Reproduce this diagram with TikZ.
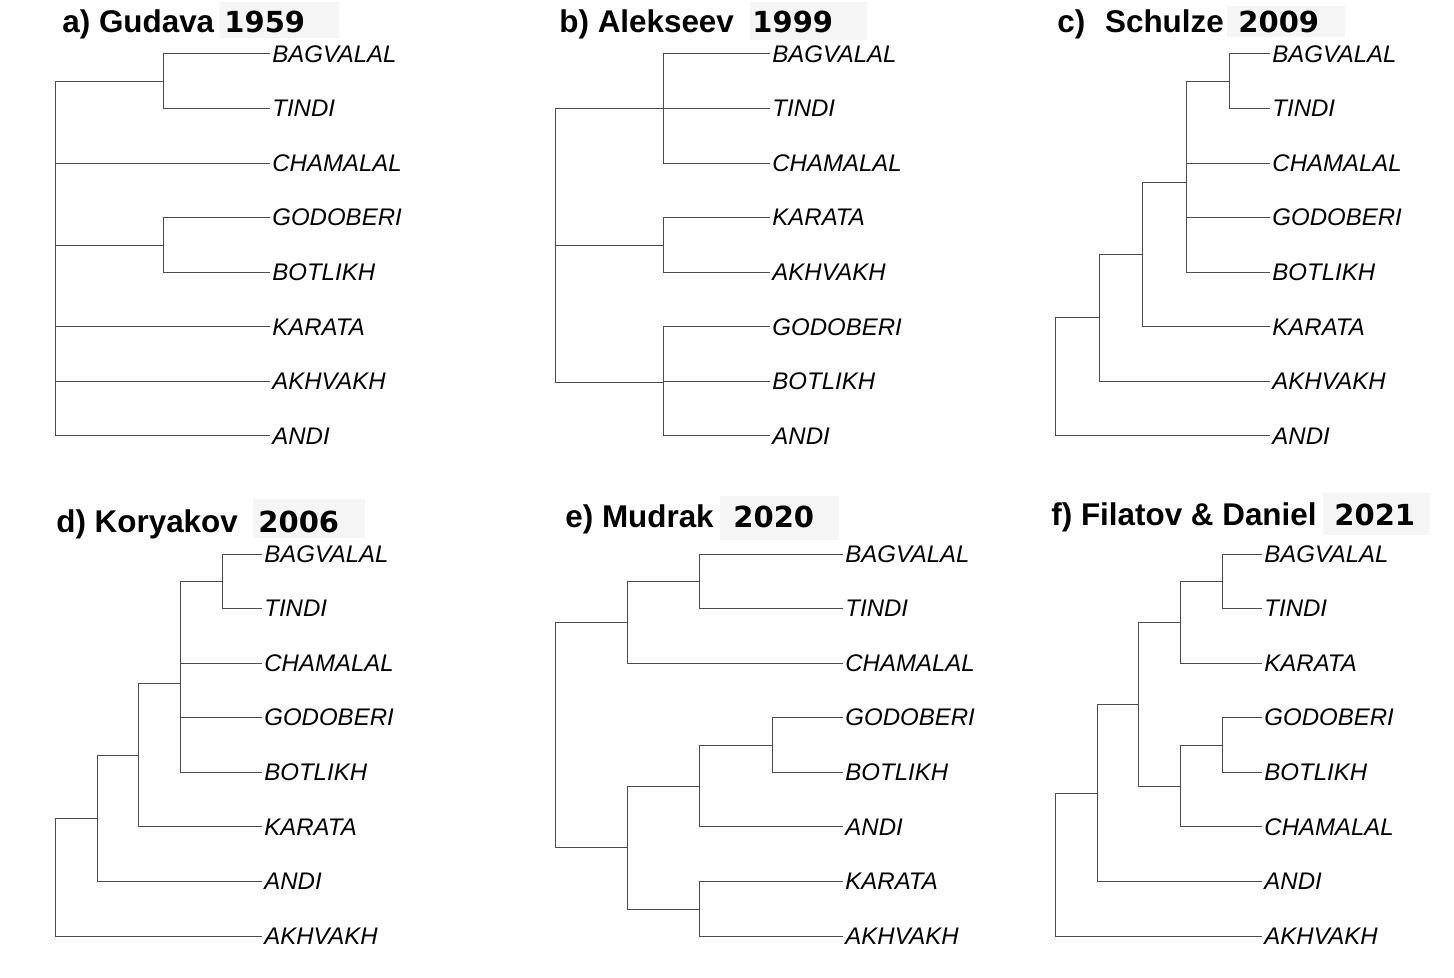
\documentclass[tikz,border=0pt]{standalone}
\usepackage{fontspec}
\setmainfont{Liberation Sans}
\newfontfamily\yearfont{DejaVu Sans}
\tikzset{
  leaf/.style={anchor=west,inner sep=1pt,font=\itshape\fontsize{12}{14}\selectfont},
  heading/.style={anchor=base west,inner sep=0pt,font=\bfseries\fontsize{15.7}{18}\selectfont},
  yearlbl/.style={anchor=base west,inner sep=0pt,font=\yearfont\bfseries\fontsize{14.5}{17}\selectfont},
  branch/.style={draw=black!70,line width=0.5pt},
  yearbg/.style={fill=black!4}
}
\begin{document}
\begin{tikzpicture}[x=0.5pt,y=-0.5pt]
\useasboundingbox (0,0) rectangle (1454,978);
% a) Gudava
\fill[yearbg] (219,2) rectangle (339,38);
\node[heading] (aT) at (62,33) {a) Gudava};
\node[yearlbl] (aY) at (224,33) {1959};
\foreach \lang [count=\i] in {BAGVALAL,TINDI,CHAMALAL,GODOBERI,BOTLIKH,KARATA,AKHVAKH,ANDI}
  \node[leaf] (a\i) at (270,{54+54.57*(\i-1)}) {\lang};
\coordinate (aBT) at (163,81.5); \coordinate (aGB) at (163,245.5); \coordinate (aR) at (55,258);
\draw[branch] (aBT) |- (a1.west) (aBT) |- (a2.west) (aGB) |- (a4.west) (aGB) |- (a5.west)
  (aR) |- (aBT) (aR) |- (a3.west) (aR) |- (aGB) (aR) |- (a6.west) (aR) |- (a7.west) (aR) |- (a8.west);
% b) Alekseev
\fill[yearbg] (750,2) rectangle (867,40);
\node[heading] (bT) at (559,33) {b) Alekseev};
\node[yearlbl] (bY) at (752,33) {1999};
\foreach \lang [count=\i] in {BAGVALAL,TINDI,CHAMALAL,KARATA,AKHVAKH,GODOBERI,BOTLIKH,ANDI}
  \node[leaf] (b\i) at (770,{54+54.57*(\i-1)}) {\lang};
\coordinate (bA) at (663,108.5); \coordinate (bB) at (663,245.5); \coordinate (bC) at (663,382); \coordinate (bR) at (555,245);
\draw[branch] (bA) |- (b1.west) (bA) |- (b2.west) (bA) |- (b3.west) (bB) |- (b4.west) (bB) |- (b5.west)
  (bC) |- (b6.west) (bC) |- (b7.west) (bC) |- (b8.west) (bR) |- (bA) (bR) |- (bB) (bR) |- (bC);
% c) Schulze
\fill[yearbg] (1227,6) rectangle (1345,37);
\node[heading] (cT) at (1057,33) {c)\hspace{0.63em}Schulze};
\node[yearlbl] (cY) at (1238,33) {2009};
\foreach \lang [count=\i] in {BAGVALAL,TINDI,CHAMALAL,GODOBERI,BOTLIKH,KARATA,AKHVAKH,ANDI}
  \node[leaf] (c\i) at (1270,{54+54.57*(\i-1)}) {\lang};
\coordinate (cBT) at (1229,81.5); \coordinate (cA) at (1186,183); \coordinate (cB) at (1142,255);
\coordinate (cC) at (1099,318); \coordinate (cR) at (1055,377);
\draw[branch] (cBT) |- (c1.west) (cBT) |- (c2.west) (cA) |- (cBT) (cA) |- (c3.west) (cA) |- (c4.west) (cA) |- (c5.west)
  (cB) |- (cA) (cB) |- (c6.west) (cC) |- (cB) (cC) |- (c7.west) (cR) |- (cC) (cR) |- (c8.west);
% d) Koryakov
\fill[yearbg] (253,499) rectangle (365,538);
\node[heading] (dT) at (56,532) {d) Koryakov};
\node[yearlbl] (dY) at (258,532) {2006};
\foreach \lang [count=\i] in {BAGVALAL,TINDI,CHAMALAL,GODOBERI,BOTLIKH,KARATA,ANDI,AKHVAKH}
  \node[leaf] (d\i) at (262,{554+54.57*(\i-1)}) {\lang};
\coordinate (dBT) at (222,581.5); \coordinate (dA) at (180,683); \coordinate (dB) at (138,755);
\coordinate (dC) at (97,818); \coordinate (dR) at (55,877);
\draw[branch] (dBT) |- (d1.west) (dBT) |- (d2.west) (dA) |- (dBT) (dA) |- (d3.west) (dA) |- (d4.west) (dA) |- (d5.west)
  (dB) |- (dA) (dB) |- (d6.west) (dC) |- (dB) (dC) |- (d7.west) (dR) |- (dC) (dR) |- (d8.west);
% e) Mudrak
\fill[yearbg] (720,496) rectangle (839,540);
\node[heading] (eT) at (565,527) {e) Mudrak};
\node[yearlbl] (eY) at (733,527) {2020};
\foreach \lang [count=\i] in {BAGVALAL,TINDI,CHAMALAL,GODOBERI,BOTLIKH,ANDI,KARATA,AKHVAKH}
  \node[leaf] (e\i) at (843,{554+54.57*(\i-1)}) {\lang};
\coordinate (eBT) at (699,581.5); \coordinate (eA) at (627,622); \coordinate (eGB) at (772,745.5);
\coordinate (eB) at (699,786); \coordinate (eKA) at (699,909); \coordinate (eC) at (627,847); \coordinate (eR) at (555,735);
\draw[branch] (eBT) |- (e1.west) (eBT) |- (e2.west) (eA) |- (eBT) (eA) |- (e3.west)
  (eGB) |- (e4.west) (eGB) |- (e5.west) (eB) |- (eGB) (eB) |- (e6.west) (eKA) |- (e7.west) (eKA) |- (e8.west)
  (eC) |- (eB) (eC) |- (eKA) (eR) |- (eA) (eR) |- (eC);
% f) Filatov & Daniel
\fill[yearbg] (1323,493) rectangle (1430,535);
\node[heading] (fT) at (1051,525) {f) Filatov \& Daniel};
\node[yearlbl] (fY) at (1334,525) {2021};
\foreach \lang [count=\i] in {BAGVALAL,TINDI,KARATA,GODOBERI,BOTLIKH,CHAMALAL,ANDI,AKHVAKH}
  \node[leaf] (f\i) at (1262,{554+54.57*(\i-1)}) {\lang};
\coordinate (fBT) at (1222,581.5); \coordinate (fA) at (1180,622); \coordinate (fGB) at (1222,745.5);
\coordinate (fB) at (1180,786); \coordinate (fC) at (1138,704); \coordinate (fD) at (1097,793); \coordinate (fR) at (1055,865);
\draw[branch] (fBT) |- (f1.west) (fBT) |- (f2.west) (fA) |- (fBT) (fA) |- (f3.west)
  (fGB) |- (f4.west) (fGB) |- (f5.west) (fB) |- (fGB) (fB) |- (f6.west)
  (fC) |- (fA) (fC) |- (fB) (fD) |- (fC) (fD) |- (f7.west) (fR) |- (fD) (fR) |- (f8.west);
\end{tikzpicture}
\end{document}
